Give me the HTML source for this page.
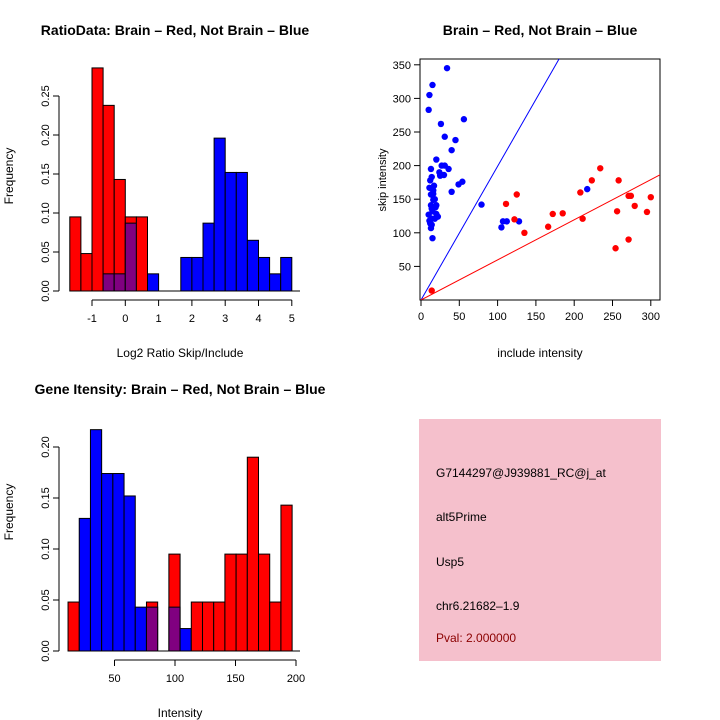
<!DOCTYPE html>
<html><head><meta charset="utf-8"><style>
html,body{margin:0;padding:0;background:#fff;}
svg{display:block;font-family:"Liberation Sans",sans-serif;}
</style></head><body>
<svg id="c" width="720" height="720" xmlns="http://www.w3.org/2000/svg">
<rect width="720" height="720" fill="#fff"/>
<text x="175" y="35" font-size="14" font-weight="bold" text-anchor="middle">RatioData: Brain – Red, Not Brain – Blue</text>
<text x="540" y="35" font-size="14" font-weight="bold" text-anchor="middle">Brain – Red, Not Brain – Blue</text>
<text x="180" y="394" font-size="14" font-weight="bold" text-anchor="middle">Gene Itensity: Brain – Red, Not Brain – Blue</text>
<text x="180" y="357" font-size="12" text-anchor="middle">Log2 Ratio Skip/Include</text>
<text x="540" y="357" font-size="12" text-anchor="middle">include intensity</text>
<text x="180" y="717" font-size="12" text-anchor="middle">Intensity</text>
<text transform="translate(13,176) rotate(-90)" font-size="12" text-anchor="middle">Frequency</text>
<text transform="translate(13,512) rotate(-90)" font-size="12" text-anchor="middle">Frequency</text>
<text transform="translate(386,180) rotate(-90)" font-size="11" text-anchor="middle">skip intensity</text>
<g>
<rect x="419" y="419" width="242" height="242" fill="#f5c0cc"/>
<text x="436" y="477" font-size="12">G7144297@J939881_RC@j_at</text>
<text x="436" y="521" font-size="12">alt5Prime</text>
<text x="436" y="566" font-size="12">Usp5</text>
<text x="436" y="610" font-size="12">chr6.21682–1.9</text>
<text x="436" y="642" font-size="12" fill="#8b0000">Pval: 2.000000</text>
</g>
<g id="g1"></g>
<g id="g2"></g>
<g id="g3"></g>
</svg>
<script>
const ratioRed=[0.095,0.048,0.286,0.238,0.143,0.095,0.095,0,0,0,0,0,0,0,0,0,0,0,0,0];
const ratioBlue=[0,0,0,0.022,0.022,0.087,0,0.022,0,0,0.043,0.043,0.087,0.196,0.152,0.152,0.065,0.043,0.022,0.043];
const ratioXTicks=[-1,0,1,2,3,4,5];
const ratioYTicks=[0,0.05,0.10,0.15,0.20,0.25];
const intRed=[0.048,0,0,0,0,0,0,0.048,0,0.095,0,0.048,0.048,0.048,0.095,0.095,0.19,0.095,0.048,0.143];
const intBlue=[0,0.13,0.217,0.174,0.174,0.152,0.043,0.043,0,0.043,0.022,0,0,0,0,0,0,0,0,0];
const intXTicks=[50,100,150,200];
const intYTicks=[0,0.05,0.10,0.15,0.20];
const blueX=[34,15,11,10,56,26,31,45,40,20,13,27,31,36,24,30,25,14,54,49,17,11,16,40,13,16,13,20,79,14,10,20,14,18,12,13,107,112,128,105,15,217,12,18,15,11,19,22,14,16];
const blueY=[345,320,305,283,269,262,243,238,223,209,195,200,200,195,190,186,185,183,176,172,170,167,163,161,157,149,141,141,142,136,127,128,121,121,114,107,117,117,117,108,92,165,178,150,132,118,138,124,112,158];
const redX=[14,111,125,122,135,166,172,185,208,223,234,211,258,256,254,271,274,279,271,295,300];
const redY=[14,143,157,120,100,109,128,129,160,178,196,121,178,132,77,155,155,140,90,131,153];
const scXTicks=[0,50,100,150,200,250,300];
const scYTicks=[50,100,150,200,250,300,350];
const NS="http://www.w3.org/2000/svg";
function mk(p,t,a){const e=document.createElementNS(NS,t);for(const k in a)e.setAttribute(k,a[k]);p.appendChild(e);return e;}
function hist(g,red,blue,x0,bw,xs,y0,ys,xt,yt,tickY,baseEnd,name,fmtX){
  const X=v=>xs(v);
  for(let i=0;i<red.length;i++){
    const a=x0+i*bw,b=a+bw;
    const r=red[i],bl=blue[i];
    const draw=(h,col,nm)=>{const e=mk(g,'rect',{x:X(a),y:y0-h*ys,width:X(b)-X(a),height:h*ys,fill:col,stroke:'#000','stroke-width':1});
      
      };
    if(r>0&&bl>0){const hi=Math.max(r,bl),lo=Math.min(r,bl);draw(hi,r>bl?'#ff0000':'#0000ff',name+'-bar');draw(lo,'#800080',name+'-overlap-bar');}
    else if(r>0)draw(r,'#ff0000',name+'-red-bar');
    else if(bl>0)draw(bl,'#0000ff',name+'-blue-bar');
  }
  mk(g,'line',{x1:X(x0),x2:baseEnd,y1:y0,y2:y0,stroke:'#000'});
  const ax=59;
  mk(g,'line',{x1:ax,x2:ax,y1:y0,y2:y0-yt[yt.length-1]*ys,stroke:'#000'});
  yt.forEach(v=>{const y=y0-v*ys;mk(g,'line',{x1:ax-6,x2:ax,y1:y,y2:y,stroke:'#000'});
    const t=mk(g,'text',{transform:`translate(${ax-10},${y}) rotate(-90)`,'font-size':11,'text-anchor':'middle'});t.textContent=v.toFixed(2);
    
    });
  mk(g,'line',{x1:X(xt[0]),x2:X(xt[xt.length-1]),y1:tickY,y2:tickY,stroke:'#000'});
  xt.forEach(v=>{mk(g,'line',{x1:X(v),x2:X(v),y1:tickY,y2:tickY+6,stroke:'#000'});
    const t=mk(g,'text',{x:X(v),y:tickY+22,'font-size':11,'text-anchor':'middle'});t.textContent=fmtX(v);
    
    });
}
hist(document.getElementById('g1'),ratioRed,ratioBlue,-5/3,1/3,v=>125.3+v*33.3,291,780,ratioXTicks,ratioYTicks,300,300,'ratio',v=>String(v));
hist(document.getElementById('g2'),intRed,intBlue,11.6,9.26,v=>114.5+(v-50)*1.21,651,1020,intXTicks,intYTicks,660,300,'intensity',v=>String(v));
const g3=document.getElementById('g3');
const sx=v=>421+v*0.766, sy=v=>300-v*0.672;
mk(g3,'rect',{x:420,y:59,width:240,height:241,fill:'none',stroke:'#000'});
const cp=mk(g3,'clipPath',{id:'cp'});mk(cp,'rect',{x:420,y:59,width:240,height:241});
mk(g3,'line',{x1:sx(0),y1:sy(0),x2:sx(400),y2:sy(400*1.99),stroke:'#0000ff','clip-path':'url(#cp)'});
mk(g3,'line',{x1:sx(0),y1:sy(0),x2:sx(400),y2:sy(400*0.597),stroke:'#ff0000','clip-path':'url(#cp)'});
scXTicks.forEach(v=>{mk(g3,'line',{x1:sx(v),x2:sx(v),y1:300,y2:306,stroke:'#000'});
  const t=mk(g3,'text',{x:sx(v),y:320,'font-size':11,'text-anchor':'middle'});t.textContent=v;
  
  });
scYTicks.forEach(v=>{mk(g3,'line',{x1:414,x2:420,y1:sy(v),y2:sy(v),stroke:'#000'});
  const t=mk(g3,'text',{x:411,y:sy(v)+4,'font-size':11,'text-anchor':'end'});t.textContent=v;
  
  });
blueX.forEach((v,i)=>{const c=mk(g3,'circle',{cx:sx(v),cy:sy(blueY[i]),r:3.2,fill:'#0000ff'});
  
  });
redX.forEach((v,i)=>{const c=mk(g3,'circle',{cx:sx(v),cy:sy(redY[i]),r:3.2,fill:'#ff0000'});
  
  });
</script>
</body></html>
